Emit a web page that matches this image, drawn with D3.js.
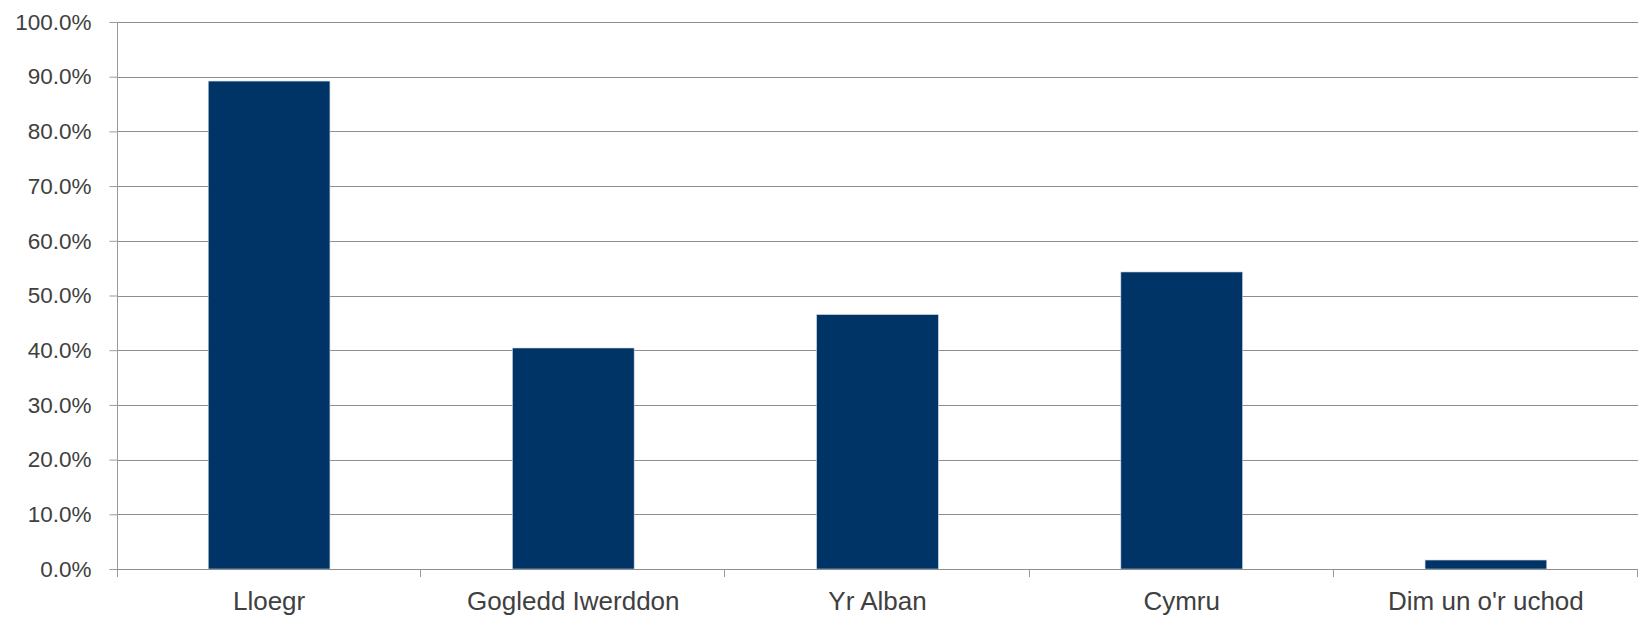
<!DOCTYPE html>
<html>
<head>
<meta charset="utf-8">
<script src="https://cdn.jsdelivr.net/npm/d3@7"></script>
<style>
  html, body { margin: 0; padding: 0; background: #fff; }
  svg { display: block; }
  .tick text { font-family: "Liberation Sans", Arial, sans-serif; fill: #404040; }
</style>
</head>
<body>
<div id="chart"></div>
<script>
// DATA
const categories = ["Lloegr", "Gogledd Iwerddon", "Yr Alban", "Cymru", "Dim un o'r uchod"];
const values = [0.892, 0.404, 0.465, 0.543, 0.0164];
const yTicks = [0, 0.1, 0.2, 0.3, 0.4, 0.5, 0.6, 0.7, 0.8, 0.9, 1.0];

// CONFIG
const width = 1639, height = 618;
const margin = { top: 22, right: 1, left: 117, bottom: 49 };
const barColor = "#003366";
const gridColor = "#8e8e8e";
const axisColor = "#9a9a9a";

const svg = d3.select("#chart").append("svg")
    .attr("width", width)
    .attr("height", height);

const x = d3.scaleBand()
    .domain(categories)
    .range([margin.left, width - margin.right])
    .paddingInner(0.6)
    .paddingOuter(0.3);

// band boundaries for x ticks (Excel style: ticks between categories)
const xEdges = d3.scaleLinear()
    .domain([0, categories.length])
    .range([margin.left, width - margin.right]);

const y = d3.scaleLinear()
    .domain([0, 1])
    .range([height - margin.bottom, margin.top]);

// gridlines
svg.append("g")
    .selectAll("line")
    .data(yTicks.filter(d => d > 0))
    .join("line")
    .attr("x1", margin.left)
    .attr("x2", width - margin.right)
    .attr("y1", d => Math.round(y(d)) + 0.5)
    .attr("y2", d => Math.round(y(d)) + 0.5)
    .attr("stroke", gridColor)
    .attr("stroke-width", 1);

// bars
svg.append("g")
    .selectAll("rect")
    .data(values)
    .join("rect")
    .attr("x", (d, i) => x(categories[i]))
    .attr("width", x.bandwidth())
    .attr("y", d => y(d))
    .attr("height", d => y(0) - y(d))
    .attr("fill", barColor)
    .attr("stroke", "#c8d2de")
    .attr("stroke-width", 0.6);

// y axis
const yAxis = svg.append("g")
    .attr("transform", `translate(${margin.left + 0.5},0)`)
    .call(d3.axisLeft(y)
        .tickValues(yTicks)
        .tickFormat(d3.format(".1%"))
        .tickSize(8)
        .tickPadding(18)
        .tickSizeOuter(0));
yAxis.select(".domain").remove();
yAxis.selectAll(".tick line").attr("stroke", axisColor);
yAxis.selectAll(".tick text").style("font-size", "22.5px");
yAxis.append("line")
    .attr("x1", 0).attr("x2", 0)
    .attr("y1", y(1)).attr("y2", y(0) + 8)
    .attr("stroke", axisColor);

// x axis baseline and ticks
const xAxisG = svg.append("g");
xAxisG.append("line")
    .attr("x1", margin.left)
    .attr("x2", width - margin.right)
    .attr("y1", Math.round(y(0)) + 0.5)
    .attr("y2", Math.round(y(0)) + 0.5)
    .attr("stroke", gridColor);
xAxisG.selectAll("line.xt")
    .data(d3.range(1, categories.length + 1))
    .join("line")
    .attr("class", "xt")
    .attr("x1", d => Math.round(xEdges(d)) - 0.5)
    .attr("x2", d => Math.round(xEdges(d)) - 0.5)
    .attr("y1", y(0))
    .attr("y2", y(0) + 8)
    .attr("stroke", axisColor);

// category labels
svg.append("g")
    .selectAll("text")
    .data(categories)
    .join("text")
    .attr("x", d => x(d) + x.bandwidth() / 2)
    .attr("y", y(0) + 41)
    .attr("text-anchor", "middle")
    .attr("font-family", "'Liberation Sans', Arial, sans-serif")
    .attr("font-size", "26px")
    .attr("fill", "#404040")
    .text(d => d);
</script>
</body>
</html>
